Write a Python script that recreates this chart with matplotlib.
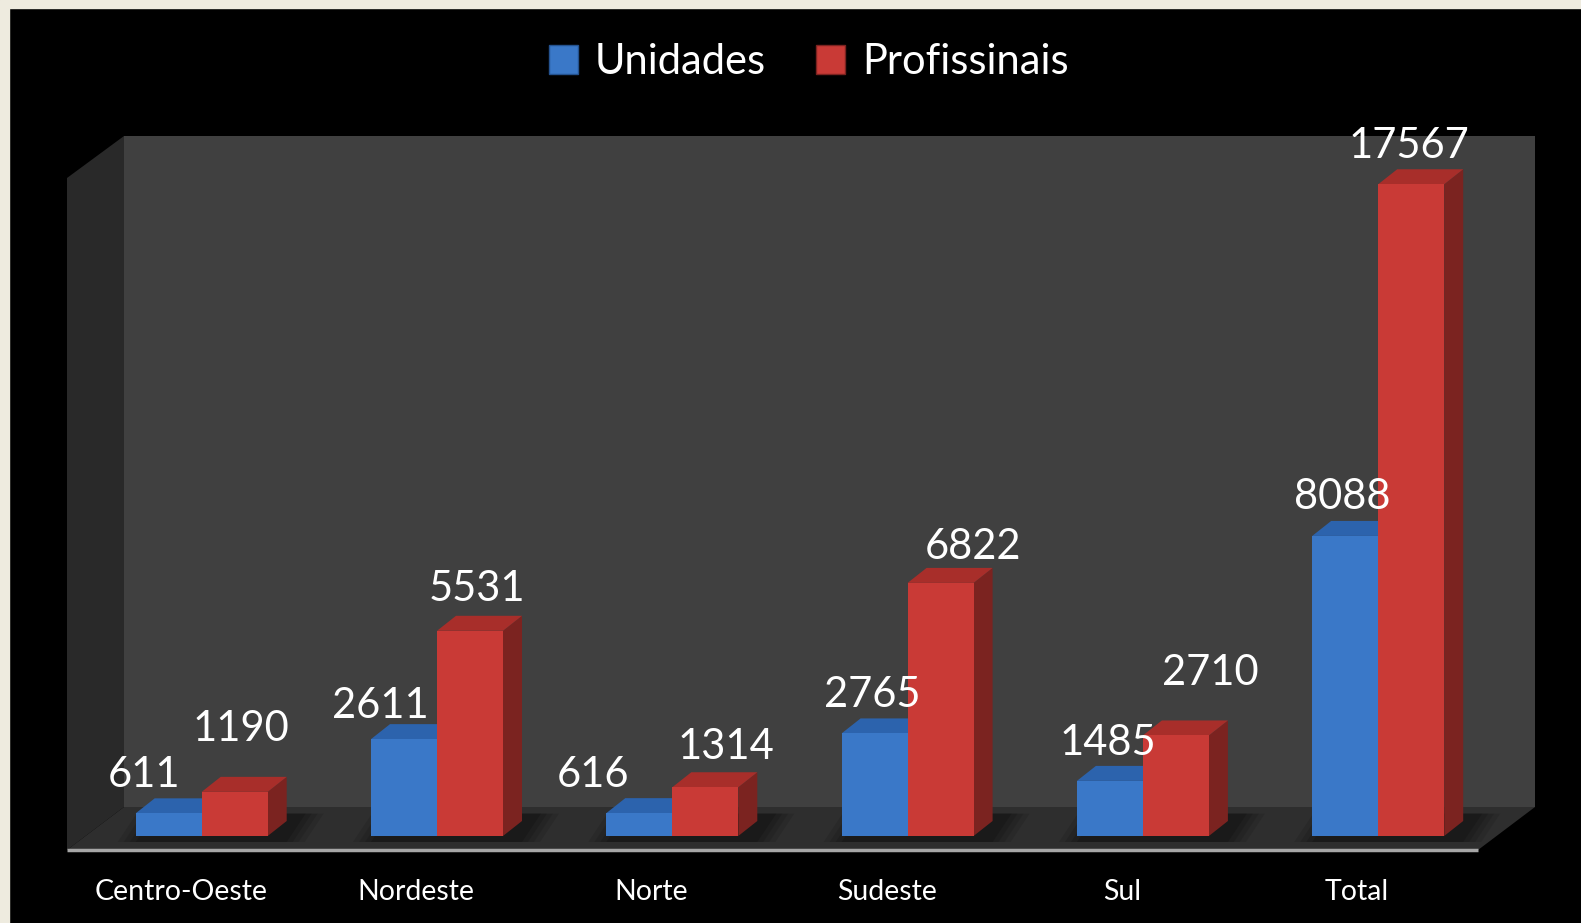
import matplotlib
matplotlib.use('Agg')
import numpy as np
import matplotlib.pyplot as plt
from matplotlib.patches import Polygon, Rectangle, Patch

# --- data ---
regioes = ['Centro-Oeste', 'Nordeste', 'Norte', 'Sudeste', 'Sul', 'Total']
unidades = [611, 2611, 616, 2765, 1485, 8088]
profissionais = [1190, 5531, 1314, 6822, 2710, 17567]
series_names = ['Unidades', 'Profissinais']

# --- layout (pixels of the 1581x923 canvas) ---
W, H = 1581, 923
X0, PX_CAT = 201.7, 235.3       # px of category 0 boundary, px per category
Y0, PX_UNIT = 836.0, 0.0371     # px of value 0, px per unit
BAR_W = 66 / PX_CAT
DEPTH_PX = (19, 15)             # 3d offset of the bars
lbl_off_u = [(-25, 41), (-24, 36), (-46, 41), (-2, 41), (-2, 40), (-3, 41)]
lbl_off_p = [(6, 65), (7, 44), (21, 43), (32, 38), (34, 65), (-2, 41)]

blue = dict(front='#3a78c8', top='#2c63ad', side='#24528f')
red = dict(front='#c93a36', top='#a82e2a', side='#7b2320')

FONT = 'Lato'


def px2d(px, py):
    return ((px - X0) / PX_CAT, (Y0 - py) / PX_UNIT)


fig = plt.figure(figsize=(W / 100, H / 100), dpi=100, facecolor='black')
ax = fig.add_axes([0, 0, 1, 1])
ax.set_xlim(px2d(0, 0)[0], px2d(W, 0)[0])
ax.set_ylim(px2d(0, H)[1], px2d(0, 0)[1])
ax.axis('off')

# cream border top / left
fig.patches.append(Rectangle((0, 1 - 8 / H), 1, 8 / H, transform=fig.transFigure,
                             color='#eeebdf', zorder=0))
fig.patches.append(Rectangle((0, 0), 9 / W, 1, transform=fig.transFigure,
                             color='#eeebdf', zorder=0))

# 3d box: back wall, left wall, floor
back = [px2d(124, 136), px2d(1535, 136), px2d(1535, 807), px2d(124, 807)]
left = [px2d(67, 178), px2d(124, 136), px2d(124, 807), px2d(67, 850)]
floor = [px2d(67, 850), px2d(124, 807), px2d(1535, 807), px2d(1478, 850)]
ax.add_patch(Polygon(back, closed=True, color='#404040', lw=0, zorder=1))
ax.add_patch(Polygon(left, closed=True, color='#292929', lw=0, zorder=1))
ax.add_patch(Polygon(floor, closed=True, color='#2e2e2e', lw=0, zorder=1))
e0, e1 = px2d(67, 850), px2d(1478, 850)
ax.plot([e0[0], e1[0]], [e0[1], e1[1]], color='#a6a6a6', lw=2.5, zorder=2,
        solid_capstyle='butt')

ddx = DEPTH_PX[0] / PX_CAT
ddy = DEPTH_PX[1] / PX_UNIT
x = np.arange(len(regioes))

# soft shadows on floor behind each bar pair
for i in x:
    for k, a in enumerate([0.10, 0.10, 0.12, 0.15]):
        g = (3 - k) * 6 / PX_CAT
        sx0 = x[i] - BAR_W - g
        sx1 = x[i] + BAR_W + ddx + g
        ax.add_patch(Polygon([(sx0, -6 / PX_UNIT), (sx1, -6 / PX_UNIT),
                              (sx1 + ddx, ddy + 200), (sx0 + ddx, ddy + 200)],
                             closed=True, color='black', alpha=a, lw=0, zorder=1.5))


def bar3d(xs, vals, col, z):
    ax.bar(xs, vals, width=BAR_W, align='edge', color=col['front'], lw=0, zorder=z + 0.2)
    for xl, v in zip(xs, vals):
        xr = xl + BAR_W
        ax.add_patch(Polygon([(xl, v), (xl + ddx, v + ddy), (xr + ddx, v + ddy), (xr, v)],
                             closed=True, color=col['top'], lw=0, zorder=z + 0.1))
        ax.add_patch(Polygon([(xr, 0), (xr + ddx, ddy), (xr + ddx, v + ddy), (xr, v)],
                             closed=True, color=col['side'], lw=0, zorder=z))


bar3d(x - BAR_W, unidades, blue, 3)
bar3d(x, profissionais, red, 4)

# value labels
CAP = 14.5
for xs, vals, offs in [(x - BAR_W / 2, unidades, lbl_off_u),
                       (x + BAR_W / 2, profissionais, lbl_off_p)]:
    for xc, v, (dx, dy) in zip(xs, vals, offs):
        ax.annotate(str(v), (xc, v), xytext=(dx, dy - CAP), textcoords='offset pixels',
                    ha='center', va='baseline', color='white', fontsize=30,
                    family=FONT, zorder=10)

# category labels
for i, name in enumerate(regioes):
    ax.annotate(name, (x[i], 0), xytext=(-21, -(900 - Y0)), textcoords='offset pixels',
                ha='center', va='baseline', color='white', fontsize=20.5, family=FONT)

# legend
handles = [Patch(facecolor=blue['front'], edgecolor=blue['side'], label=series_names[0]),
           Patch(facecolor=red['front'], edgecolor=red['side'], label=series_names[1])]
leg = fig.legend(handles=handles, loc='center', bbox_to_anchor=(809 / W, 1 - 62 / H),
                 ncol=2, frameon=False, labelcolor='white', handlelength=0.7,
                 handleheight=0.7, columnspacing=1.2, handletextpad=0.4,
                 prop={'family': FONT, 'size': 30})

fig.savefig('out.png', dpi=100, facecolor='black')
